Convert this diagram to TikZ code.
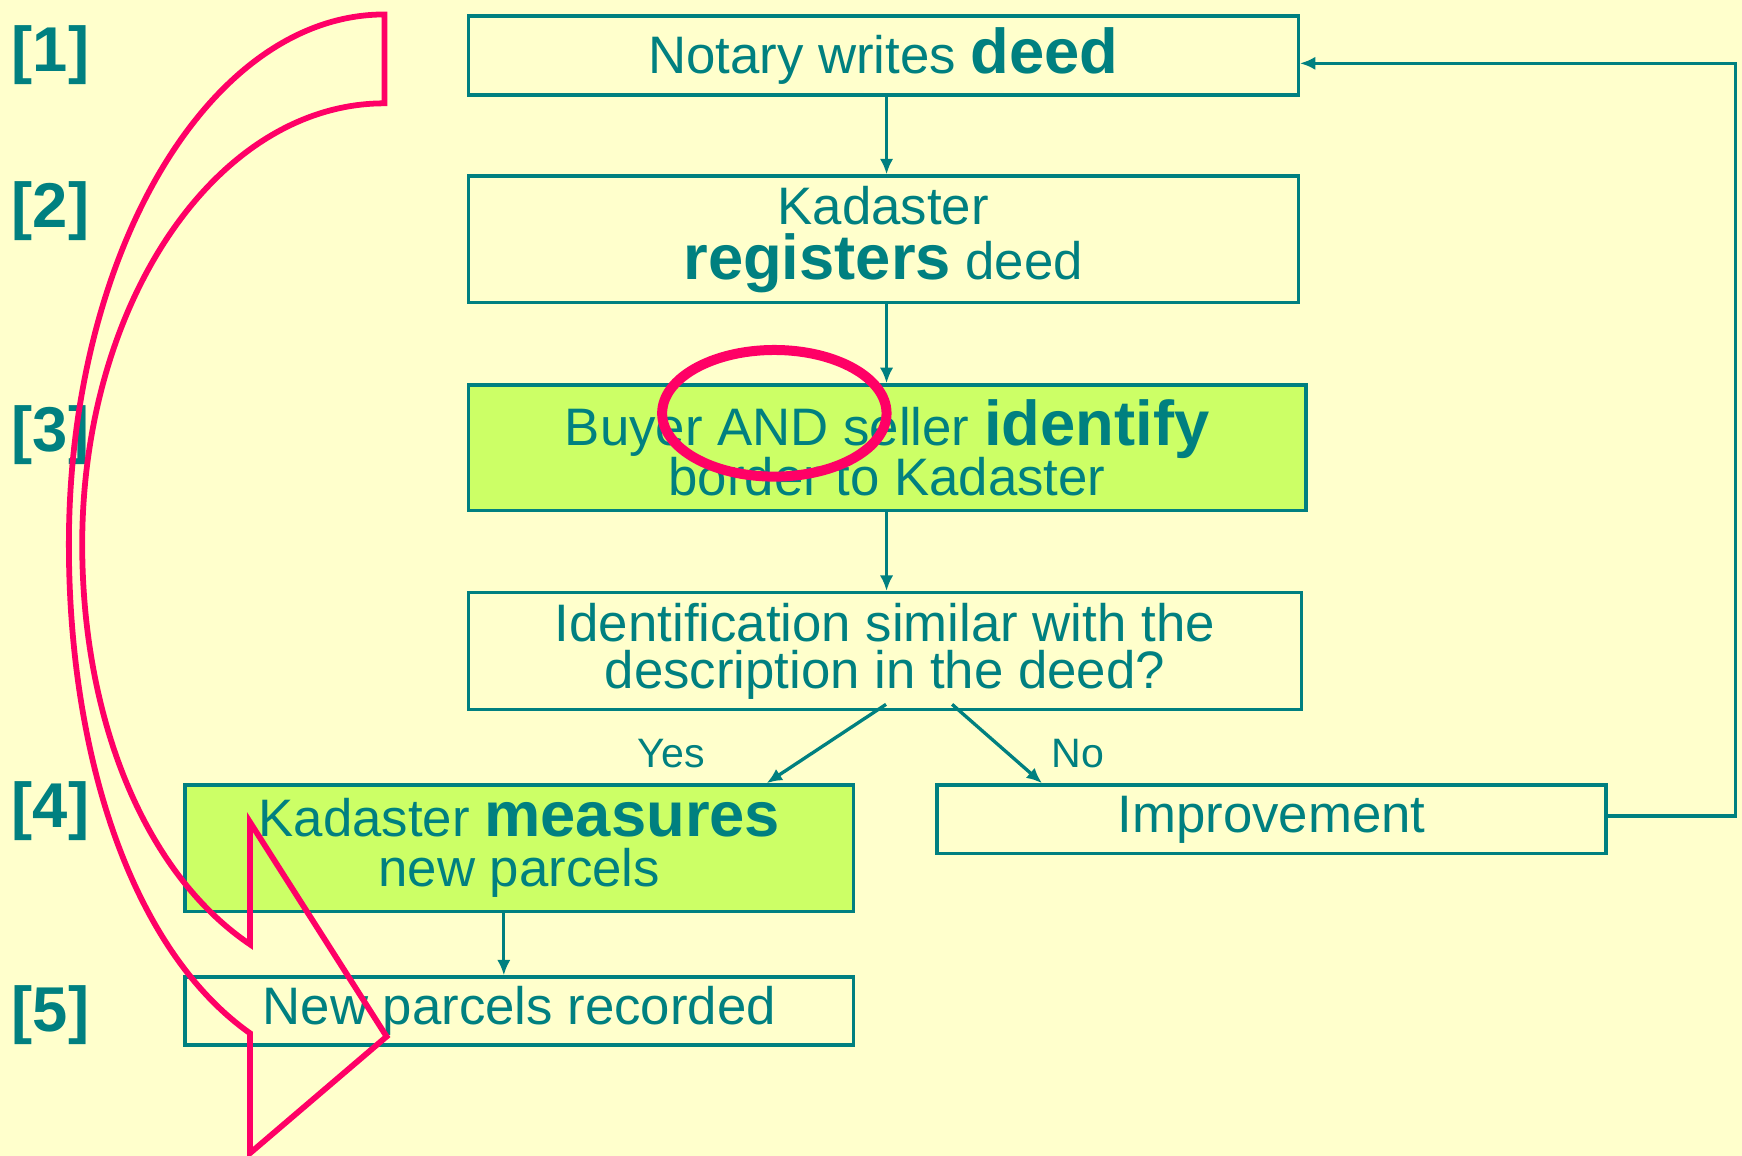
\documentclass[tikz,border=0pt]{standalone}
\usepackage{fontspec}
\setmainfont{Liberation Sans}
\usetikzlibrary{arrows.meta,calc}
\definecolor{bgyel}{RGB}{255,255,204}
\definecolor{kteal}{RGB}{0,128,128}
\definecolor{kgreen}{RGB}{204,255,102}
\definecolor{kpink}{RGB}{255,0,102}
\newcommand{\nfs}[1]{\fontsize{23.75pt}{#1}\selectfont\lineskiplimit=-100pt\relax}
\newcommand{\bigb}[1]{{\fontsize{28.5pt}{28.5pt}\selectfont\bfseries #1}}
\begin{document}
\begin{tikzpicture}[x=0.5pt,y=-0.5pt,
  box/.style={draw=kteal, line width=1.5pt, inner sep=0pt, align=center, text=kteal, font=\nfs{22.5pt}},
  gbox/.style={box, fill=kgreen},
  conn/.style={draw=kteal, line width=1.5pt, -{Latex[length=7pt,width=6pt]}},
  num/.style={text=kteal, inner sep=0pt, font=\fontsize{28.5pt}{28.5pt}\selectfont\bfseries},
  yn/.style={text=kteal, inner sep=0pt, font=\fontsize{18.5pt}{18.5pt}\selectfont},
  pinkline/.style={draw=kpink, line width=2.6pt, line join=miter}]
\useasboundingbox (0,0) rectangle (1568,1040.5);
\fill[bgyel] (0,0) rectangle (1568,1040.5);

% step labels
\node[num] (L1) at (45.5,49.5) {[1]};
\node[num] (L2) at (45.5,190) {[2]};
\node[num] (L3) at (45.5,392) {[3]};
\node[num] (L4) at (45.5,730) {[4]};
\node[num] (L5) at (45.5,913.5) {[5]};

% boxes
\node[box, minimum width=373.5pt, minimum height=35.5pt] (B1) at (795,50) {Notary writes \bigb{deed}};
\node[box, minimum width=373.5pt, minimum height=57pt, font=\nfs{24.5pt}] (B2) at (795,215.5) {Kadaster\\\bigb{registers} deed};
\node[gbox, minimum width=377pt, minimum height=56.5pt] (B3) at (798.5,403) {Buyer AND seller \bigb{identify}\\border to Kadaster};
\node[box, minimum width=375pt, minimum height=52.5pt, font=\nfs{21pt}] (B4) at (796.5,586) {Identification similar with the\\description in the deed?};
\node[gbox, minimum width=301pt, minimum height=57pt] (B5) at (467.5,763.5) {Kadaster \bigb{measures}\\new parcels};
\node[box, minimum width=301pt, minimum height=31pt] (B6) at (1144.5,737.5) {Improvement};
\node[box, minimum width=301pt, minimum height=30.5pt] (B7) at (467.5,910) {New parcels recorded};

% connectors
\coordinate (axis) at (798,0);
\draw[conn] (B1.south -| axis) -- (B2.north -| axis);
\draw[conn] (B2.south -| axis) -- (B3.north -| axis);
\draw[conn] (B3.south -| axis) -- (B4.north -| axis);
\coordinate (yesS) at ($(B4.south)+(1,-6)$);
\coordinate (noS) at ($(B4.south)+(60.5,-6)$);
\coordinate (yesE) at ($(B5.north east)+(-80,0)$);
\coordinate (noE) at ($(B6.north west)+(96,0)$);
\draw[conn] (yesS) -- (yesE);
\draw[conn] (noS) -- (noE);
\node[yn] (yes) at (604,678) {Yes};
\node[yn] (no) at (970,678) {No};
\draw[conn] ([xshift=-7pt]B5.south) -- ([xshift=-7pt]B7.north);
\draw[conn] ($(B6.east)+(0,-3)$) -- ++(115,0) |- ($(B1.east)+(0,7)$);

% pink annotations
\draw[draw=kpink, line width=4.5pt] (697,372) ellipse [x radius=101, y radius=57];
\draw[pinkline] (346,13) .. controls (189,13) and (62,227) .. (62,490)
  .. controls (62,682) and (119.5,855.5) .. (225,930)
  -- (225,1038) -- (348,933) -- (225,740) -- (225,850)
  .. controls (129,785) and (74,645) .. (74,490)
  .. controls (74,271) and (196,93) .. (346,93) -- cycle;
\end{tikzpicture}
\end{document}
